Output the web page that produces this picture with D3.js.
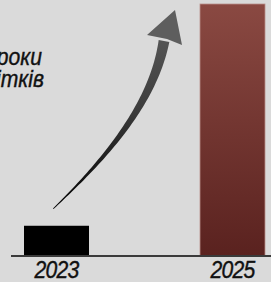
<!DOCTYPE html>
<html><head><meta charset="utf-8">
<script src="https://cdn.jsdelivr.net/npm/d3@7"></script>
<style>html,body{margin:0;padding:0;background:#dadada;overflow:hidden}svg{display:block}</style>
</head><body>
<script>
const years = ["2023", "2025"];
const values = [12, 100];
const captionLines = ["роки", "ітків"];

const W = 271, H = 282;
const svg = d3.select("body").append("svg").attr("width", W).attr("height", H);
svg.append("rect").attr("width", W).attr("height", H).attr("fill", "#dadada");

const x = d3.scaleBand().domain(years).range([24, 265]).paddingInner(0.6307).paddingOuter(0);
const y = d3.scaleLinear().domain([0, 100]).range([256, 4]);

const defs = svg.append("defs");
const g1 = defs.append("linearGradient").attr("id", "maroon").attr("x1", 0).attr("y1", 0).attr("x2", 0).attr("y2", 1);
g1.append("stop").attr("offset", 0).attr("stop-color", "#8a4942");
g1.append("stop").attr("offset", 1).attr("stop-color", "#5a221f");
const g2 = defs.append("linearGradient").attr("id", "arrowGrad").attr("gradientUnits", "userSpaceOnUse")
  .attr("x1", 0).attr("y1", 10).attr("x2", 0).attr("y2", 210);
g2.append("stop").attr("offset", 0).attr("stop-color", "#5e5e5e");
g2.append("stop").attr("offset", 0.5).attr("stop-color", "#3c3c3c");
g2.append("stop").attr("offset", 1).attr("stop-color", "#000");

const fills = ["#000", "url(#maroon)"];
svg.selectAll("rect.bar").data(values).join("rect").attr("class", "bar")
  .attr("x", (d, i) => x(years[i]))
  .attr("width", x.bandwidth())
  .attr("y", d => y(d))
  .attr("height", d => y(0) - y(d))
  .attr("fill", (d, i) => fills[i])
  .attr("stroke", (d, i) => i === 1 ? "#b88f8a" : "none")
  .attr("stroke-width", 0.8);

// baseline
svg.append("line").attr("x1", 11).attr("x2", W).attr("y1", y(0)).attr("y2", y(0))
  .attr("stroke", "#3a3a3a").attr("stroke-width", 2);

// year labels
svg.selectAll("text.year").data(years).join("text").attr("class", "year")
  .attr("transform", d => `translate(${x(d) + x.bandwidth() / 2},278) scale(0.92,1)`)
  .attr("text-anchor", "middle")
  .attr("font-family", "Liberation Sans, Arial, sans-serif")
  .attr("font-style", "italic")
  .attr("font-size", 23)
  .attr("letter-spacing", -0.8)
  .attr("fill", "#111")
  .attr("stroke", "#111").attr("stroke-width", 0.4)
  .text(d => d);

// caption (cropped at left edge, as in the reference)
svg.selectAll("text.cap").data(captionLines).join("text").attr("class", "cap")
  .attr("transform", (d, i) => `translate(${i === 0 ? 42 : 44},${i === 0 ? 65 : 87}) scale(0.88,1)`)
  .attr("text-anchor", "end")
  .attr("font-family", "Liberation Sans, Arial, sans-serif")
  .attr("font-style", "italic")
  .attr("font-size", 24)
  .attr("fill", "#111")
  .attr("stroke", "#111").attr("stroke-width", 0.4)
  .text(d => d);

// curved arrow from small bar towards big bar
const x0 = x(years[0]) + x.bandwidth() * 0.45, y0 = y(values[0]) - 17;
const tipX = x(years[1]) - 25, tipY = y(values[1]) + 6;
const P0 = [x0, y0], P1 = [x0 + 50, y0 - 48], P2 = [tipX - 22, tipY + 95], P3 = [tipX - 11, tipY + 31];
function bez(t) {
  const u = 1 - t;
  return [0, 1].map(k => u*u*u*P0[k] + 3*u*u*t*P1[k] + 3*u*t*t*P2[k] + t*t*t*P3[k]);
}
const N = 60, left = [], right = [];
for (let i = 0; i <= N; i++) {
  const t = i / N;
  const p = bez(t), q = bez(Math.min(1, t + 0.001)), r = bez(Math.max(0, t - 0.001));
  let dx = q[0] - r[0], dy = q[1] - r[1];
  const L = Math.hypot(dx, dy); dx /= L; dy /= L;
  const w = (0.8 + 10 * Math.pow(t, 1.1)) / 2;
  left.push([p[0] - dy * w, p[1] + dx * w]);
  right.push([p[0] + dy * w, p[1] - dx * w]);
}
const shaft = left.concat(right.reverse());
svg.append("path").attr("d", d3.line()(shaft) + "Z").attr("fill", "url(#arrowGrad)");
// head
const head = [[tipX, tipY], [tipX + 7, tipY + 35], [tipX - 8, tipY + 29], [tipX - 28, tipY + 25]];
svg.append("path").attr("d", d3.line()(head) + "Z").attr("fill", "#5e5e5e");
</script>
</body></html>
